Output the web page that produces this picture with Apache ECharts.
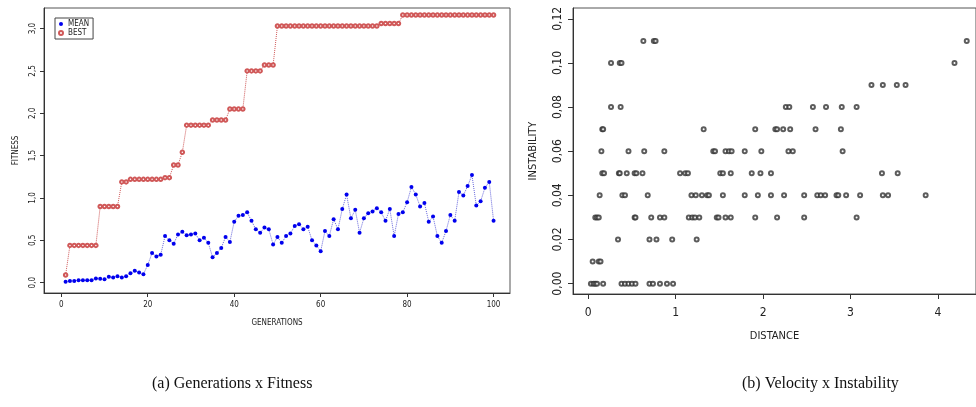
<!DOCTYPE html>
<html>
<head>
<meta charset="utf-8">
<script src="https://cdn.jsdelivr.net/npm/echarts@6/dist/echarts.min.js"></script>
<style>
  html, body { margin: 0; padding: 0; background: #fff; }
  #chart { width: 976px; height: 407px; }
</style>
</head>
<body>
<div id="chart"></div>
<script>
// (a) generations x fitness
const generations = [
  1, 2, 3, 4, 5, 6, 7, 8, 9, 10, 11, 12, 13, 14, 15, 16, 17, 18, 19, 20,
  21, 22, 23, 24, 25, 26, 27, 28, 29, 30, 31, 32, 33, 34, 35, 36, 37, 38, 39, 40,
  41, 42, 43, 44, 45, 46, 47, 48, 49, 50, 51, 52, 53, 54, 55, 56, 57, 58, 59, 60,
  61, 62, 63, 64, 65, 66, 67, 68, 69, 70, 71, 72, 73, 74, 75, 76, 77, 78, 79, 80,
  81, 82, 83, 84, 85, 86, 87, 88, 89, 90, 91, 92, 93, 94, 95, 96, 97, 98, 99, 100
];
const meanFitness = [
  0.01, 0.02, 0.02, 0.03, 0.03, 0.03, 0.03, 0.05, 0.045, 0.04,
  0.07, 0.06, 0.075, 0.06, 0.075, 0.11, 0.14, 0.12, 0.10, 0.21,
  0.35, 0.31, 0.33, 0.55, 0.50, 0.46, 0.57, 0.60, 0.56, 0.57,
  0.58, 0.50, 0.53, 0.47, 0.30, 0.35, 0.41, 0.54, 0.48, 0.72,
  0.79, 0.80, 0.83, 0.73, 0.63, 0.59, 0.65, 0.63, 0.45, 0.54,
  0.47, 0.55, 0.58, 0.67, 0.69, 0.63, 0.66, 0.50, 0.44, 0.37,
  0.61, 0.55, 0.75, 0.63, 0.87, 1.04, 0.76, 0.86, 0.59, 0.76,
  0.82, 0.84, 0.88, 0.83, 0.73, 0.87, 0.55, 0.81, 0.83, 0.95,
  1.13, 1.04, 0.90, 0.94, 0.72, 0.78, 0.55, 0.47, 0.61, 0.80,
  0.73, 1.07, 1.03, 1.14, 1.27, 0.91, 0.96, 1.12, 1.19, 0.73
];
const bestFitness = [
  0.09, 0.44, 0.44, 0.44, 0.44, 0.44, 0.44, 0.44, 0.90, 0.90,
  0.90, 0.90, 0.90, 1.19, 1.19, 1.22, 1.22, 1.22, 1.22, 1.22,
  1.22, 1.22, 1.22, 1.24, 1.24, 1.39, 1.39, 1.54, 1.86, 1.86,
  1.86, 1.86, 1.86, 1.86, 1.92, 1.92, 1.92, 1.92, 2.05, 2.05,
  2.05, 2.05, 2.50, 2.50, 2.50, 2.50, 2.57, 2.57, 2.57, 3.03,
  3.03, 3.03, 3.03, 3.03, 3.03, 3.03, 3.03, 3.03, 3.03, 3.03,
  3.03, 3.03, 3.03, 3.03, 3.03, 3.03, 3.03, 3.03, 3.03, 3.03,
  3.03, 3.03, 3.03, 3.06, 3.06, 3.06, 3.06, 3.06, 3.16, 3.16,
  3.16, 3.16, 3.16, 3.16, 3.16, 3.16, 3.16, 3.16, 3.16, 3.16,
  3.16, 3.16, 3.16, 3.16, 3.16, 3.16, 3.16, 3.16, 3.16, 3.16
];
const genTicks = [0, 20, 40, 60, 80, 100];
const fitTicks = [0, 0.5, 1, 1.5, 2, 2.5, 3];

// (b) distance x instability, one row of distances per instability level
const instabilityLevels = [0, 0.01, 0.02, 0.03, 0.04, 0.05, 0.06, 0.07, 0.08, 0.09, 0.10, 0.11];
const distanceByLevel = [
  [0.03, 0.06, 0.08, 0.10, 0.17, 0.38, 0.42, 0.46, 0.50, 0.54, 0.70, 0.74, 0.82, 0.90, 0.97],
  [0.05, 0.12, 0.14],
  [0.34, 0.70, 0.78, 0.96, 1.24],
  [0.08, 0.10, 0.12, 0.53, 0.54, 0.72, 0.82, 0.87, 1.15, 1.19, 1.22, 1.27, 1.47, 1.49, 1.57, 1.63, 1.91, 2.16, 2.47, 3.07],
  [0.13, 0.39, 0.42, 0.68, 1.18, 1.23, 1.30, 1.36, 1.38, 1.54, 1.79, 1.94, 2.09, 2.24, 2.47, 2.62, 2.66, 2.71, 2.84, 2.86, 2.95, 3.11, 3.37, 3.43, 3.86],
  [0.16, 0.18, 0.35, 0.36, 0.44, 0.53, 0.55, 0.62, 1.05, 1.11, 1.14, 1.51, 1.54, 1.63, 1.87, 1.97, 2.09, 3.36, 3.54],
  [0.15, 0.46, 0.64, 0.87, 1.43, 1.45, 1.57, 1.61, 1.64, 1.79, 1.98, 2.29, 2.34, 2.91],
  [0.16, 0.17, 1.32, 1.91, 2.14, 2.16, 2.23, 2.31, 2.60, 2.89],
  [0.26, 0.37, 2.26, 2.30, 2.57, 2.72, 2.90, 3.07],
  [3.24, 3.37, 3.53, 3.63],
  [0.26, 0.36, 0.38, 4.19],
  [0.63, 0.75, 0.77, 4.33]
];
const distTicks = [0, 1, 2, 3, 4];
const instTicks = [0, 0.02, 0.04, 0.06, 0.08, 0.10, 0.12];

const narrow = '"Liberation Sans Narrow", "DejaVu Sans Condensed", "DejaVu Sans", sans-serif';
const axisCol = '#333';

let scatterData = [];
instabilityLevels.forEach(function (lvl, i) {
  distanceByLevel[i].forEach(function (d) { scatterData.push([d, lvl]); });
});

function comma(v, n) { return v.toFixed(n).replace('.', ','); }

const chart = echarts.init(document.getElementById('chart'), null, { renderer: 'canvas' });

let option = {
  backgroundColor: '#fff',
  animation: false,
  grid: [
    { left: 44, top: 8, width: 466, height: 285, show: true, borderColor: '#555', borderWidth: 1 },
    { left: 573, top: 8, width: 411, height: 286, show: true, borderColor: '#555', borderWidth: 1 }
  ],
  legend: {
    left: 55, top: 18, orient: 'vertical',
    padding: [2, 4, 2, 3], itemGap: 1, itemWidth: 4, itemHeight: 4,
    borderColor: '#444', borderWidth: 1,
    textStyle: { fontSize: 8, fontFamily: narrow, color: '#222' },
    data: [
      { name: 'MEAN', icon: 'circle' },
      { name: 'BEST', icon: 'emptyCircle' }
    ]
  },
  xAxis: [
    {
      gridIndex: 0, type: 'value', min: -4, max: 103.8,
      name: 'GENERATIONS', nameLocation: 'middle', nameGap: 26,
      nameTextStyle: { fontSize: 8, fontFamily: narrow, color: '#222' },
      axisLine: { onZero: false, lineStyle: { color: axisCol } },
      axisTick: { length: 4, customValues: genTicks, lineStyle: { color: axisCol } },
      axisLabel: { customValues: genTicks, fontSize: 8, margin: 8, fontFamily: narrow, color: '#222' },
      splitLine: { show: false }
    },
    {
      gridIndex: 1, type: 'value', min: -0.175, max: 4.436,
      name: 'DISTANCE', nameLocation: 'middle', nameGap: 37,
      nameTextStyle: { fontSize: 11, fontFamily: narrow, color: '#222' },
      axisLine: { onZero: false, lineStyle: { color: axisCol } },
      axisTick: { length: 5, customValues: distTicks, lineStyle: { color: axisCol } },
      axisLabel: { customValues: distTicks, fontSize: 12, margin: 13, fontFamily: narrow, color: '#222' },
      splitLine: { show: false }
    }
  ],
  yAxis: [
    {
      gridIndex: 0, type: 'value', min: -0.122, max: 3.243,
      name: 'FITNESS', nameLocation: 'middle', nameGap: 24, nameRotate: 90,
      nameTextStyle: { fontSize: 8, fontFamily: narrow, color: '#222' },
      axisLine: { onZero: false, lineStyle: { color: axisCol } },
      axisTick: { length: 4, customValues: fitTicks, lineStyle: { color: axisCol } },
      axisLabel: {
        customValues: fitTicks, rotate: 90, fontSize: 8, margin: 7, fontFamily: narrow, color: '#222',
        formatter: function (v) { return comma(v, 1); }
      },
      splitLine: { show: false }
    },
    {
      gridIndex: 1, type: 'value', min: -0.0047, max: 0.1249,
      name: 'INSTABILITY', nameLocation: 'middle', nameGap: 34, nameRotate: 90,
      nameTextStyle: { fontSize: 11, fontFamily: narrow, color: '#222' },
      axisLine: { onZero: false, lineStyle: { color: axisCol } },
      axisTick: { length: 5, customValues: instTicks, lineStyle: { color: axisCol } },
      axisLabel: {
        customValues: instTicks, rotate: 90, fontSize: 12, margin: 9, fontFamily: narrow, color: '#222',
        formatter: function (v) { return comma(v, 2); }
      },
      splitLine: { show: false }
    }
  ],
  graphic: [
    {
      type: 'text', left: 152, top: 376,
      style: { text: '(a) Generations x Fitness', font: '16px "Liberation Serif", "DejaVu Serif", serif', fill: '#111' }
    },
    {
      type: 'text', left: 742, top: 376,
      style: { text: '(b) Velocity x Instability', font: '16px "Liberation Serif", "DejaVu Serif", serif', fill: '#111' }
    }
  ],
  series: [
    {
      name: 'MEAN', type: 'line', xAxisIndex: 0, yAxisIndex: 0,
      data: generations.map(function (g, i) { return [g, meanFitness[i]]; }),
      symbol: 'circle', symbolSize: 4,
      itemStyle: { color: '#0000ee' },
      lineStyle: { color: '#6666dd', width: 1, type: 'dotted' }
    },
    {
      name: 'BEST', type: 'line', xAxisIndex: 0, yAxisIndex: 0,
      data: generations.map(function (g, i) { return [g, bestFitness[i]]; }),
      symbol: 'emptyCircle', symbolSize: 3.5,
      itemStyle: { color: '#d05858', borderWidth: 0.9 },
      lineStyle: { color: '#d05858', width: 1, type: 'dotted' }
    },
    {
      name: 'INSTABILITY', type: 'scatter', xAxisIndex: 1, yAxisIndex: 1,
      data: scatterData,
      symbol: 'emptyCircle', symbolSize: 4,
      itemStyle: { color: '#333', borderWidth: 0.9 }
    }
  ]
};

chart.setOption(option);
</script>
</body>
</html>
